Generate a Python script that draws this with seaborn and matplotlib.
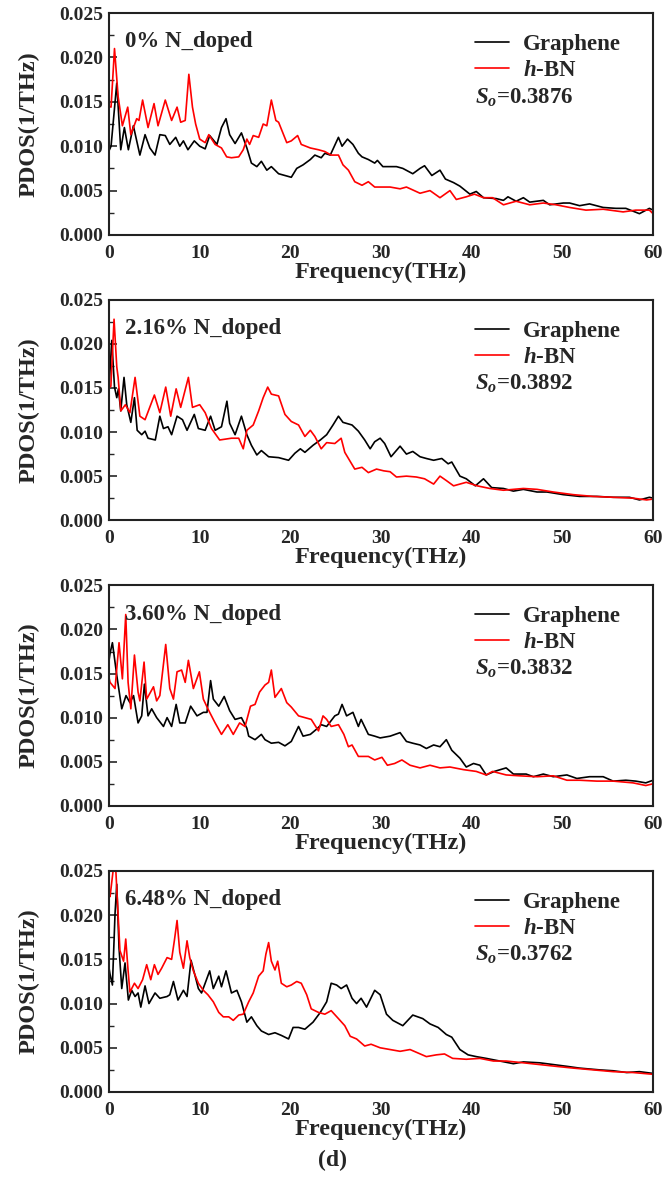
import matplotlib
matplotlib.use("Agg")
from matplotlib import pyplot as plt
from matplotlib.ticker import MultipleLocator, FormatStrFormatter
import pandas as pd
import seaborn as sns

# PDOS values are in units of 1e-3 1/THz, frequencies in THz

# ----- 0% N_doped -----
g0_freq = [0, 0.22, 0.85, 1.29, 1.69, 2.13, 2.68, 3.4, 3.97, 4.5,
           5.07, 5.6, 6.2, 6.7, 7.35, 7.8, 8.2, 8.7, 9.4, 10.0,
           10.6, 11.1, 11.9, 12.4, 12.9, 13.3, 13.9, 14.6, 15.2, 15.7,
           16.3, 16.8, 17.4, 17.9, 18.7, 19.4, 20.1, 20.7, 21.4, 22.2,
           22.7, 23.4, 23.8, 24.4, 25.3, 25.7, 26.3, 26.9, 27.5, 27.9,
           28.6, 29.3, 29.6, 30.2, 31.7, 32.4, 33.5, 34.3, 34.8, 35.6,
           36.5, 37.1, 38.0, 38.7, 39.8, 40.5, 41.3, 42.7, 43.5, 44.0,
           44.9, 45.7, 46.4, 47.9, 48.6, 50.1, 50.8, 51.9, 53.0, 54.5,
           55.9, 57.0, 58.5, 59.6, 60.0]
g0_pdos = [9.5, 10.0, 17.1, 9.6, 12.1, 9.6, 12.3, 9.0, 11.3, 9.8,
           9.0, 11.3, 11.2, 10.2, 11.0, 10.0, 10.6, 9.6, 10.6, 10.0,
           9.7, 11.2, 10.2, 12.1, 13.1, 11.3, 10.3, 11.5, 9.8, 8.1,
           7.7, 8.3, 7.3, 7.7, 6.9, 6.7, 6.5, 7.5, 7.9, 8.5,
           9.0, 8.7, 9.2, 9.0, 11.0, 10.0, 10.8, 10.2, 9.2, 8.8,
           8.5, 8.1, 8.4, 7.7, 7.7, 7.5, 6.9, 7.5, 7.8, 6.7,
           7.3, 6.3, 5.9, 5.5, 4.6, 4.9, 4.2, 4.1, 3.9, 4.3,
           3.8, 4.2, 3.7, 3.9, 3.4, 3.6, 3.6, 3.3, 3.5, 3.1,
           3.0, 3.0, 2.4, 3.0, 2.8]
h0_freq = [0, 0.22, 0.6, 1.0, 1.47, 2.06, 2.4, 3.05, 3.3, 3.7,
           4.3, 4.96, 5.4, 6.2, 6.9, 7.5, 7.9, 8.4, 8.8, 9.2,
           9.55, 10.0, 10.6, 11.0, 11.7, 12.4, 12.97, 13.5, 14.3, 14.8,
           15.2, 15.5, 15.9, 16.5, 17.0, 17.4, 17.9, 18.4, 18.7, 19.6,
           20.1, 20.8, 21.2, 22.2, 23.1, 23.8, 24.5, 25.3, 25.8, 26.4,
           27.1, 27.9, 28.6, 29.3, 29.9, 31.0, 32.1, 32.8, 34.3, 35.4,
           36.5, 37.6, 38.3, 39.4, 40.3, 41.3, 42.3, 43.5, 44.9, 46.4,
           47.9, 49.3, 50.8, 52.6, 54.5, 56.7, 58.1, 59.6, 60.0]
h0_pdos = [14.5, 14.4, 21.0, 15.6, 12.3, 14.4, 11.3, 13.1, 12.9, 15.2,
           12.1, 14.8, 12.3, 15.2, 12.9, 14.4, 12.7, 12.9, 18.1, 14.4,
           12.5, 10.8, 10.4, 11.3, 10.2, 9.8, 8.8, 8.7, 8.8, 9.6,
           10.8, 10.2, 11.2, 11.0, 12.5, 12.3, 15.2, 12.9, 12.7, 10.4,
           10.6, 11.2, 10.2, 9.8, 9.6, 9.4, 9.0, 9.0, 7.9, 7.3,
           6.0, 5.6, 6.0, 5.4, 5.4, 5.4, 5.2, 5.4, 4.7, 5.0,
           4.2, 5.0, 4.0, 4.3, 4.6, 4.2, 4.2, 3.4, 3.8, 3.4,
           3.6, 3.4, 3.1, 2.8, 2.9, 2.6, 2.8, 2.8, 2.4]

# ----- 2.16% N_doped -----
g1_freq = [0, 0.3, 0.6, 0.85, 1.03, 1.29, 1.65, 1.95, 2.4, 2.8,
           3.1, 3.6, 3.97, 4.3, 5.1, 5.6, 6.0, 6.5, 6.9, 7.5,
           8.1, 8.6, 9.4, 9.85, 10.6, 11.2, 11.7, 12.4, 13.0, 13.3,
           13.9, 14.6, 15.2, 15.7, 16.3, 16.8, 17.6, 18.7, 19.8, 20.5,
           21.1, 21.6, 22.5, 23.3, 24.0, 24.7, 25.3, 25.8, 26.8, 27.5,
           28.2, 28.8, 29.3, 29.9, 30.4, 31.1, 32.1, 32.8, 33.5, 34.3,
           35.0, 35.8, 36.7, 37.4, 37.8, 38.7, 39.4, 40.4, 41.3, 42.2,
           43.5, 44.6, 45.7, 47.2, 48.3, 50.1, 51.9, 53.8, 55.6, 57.4,
           58.5, 59.6, 60.0]
g1_pdos = [15.1, 20.4, 15.1, 13.9, 14.9, 12.4, 16.2, 13.1, 11.1, 13.9,
           10.2, 9.7, 10.1, 9.3, 9.1, 11.8, 10.4, 10.6, 9.7, 11.8,
           11.4, 10.2, 12.0, 10.4, 10.2, 11.8, 10.2, 10.6, 13.5, 11.0,
           9.7, 11.8, 9.7, 8.5, 7.4, 7.9, 7.2, 7.1, 6.8, 7.6,
           8.1, 7.7, 8.5, 9.1, 9.7, 10.8, 11.8, 11.1, 10.8, 10.1,
           9.1, 8.1, 8.9, 9.3, 8.7, 7.2, 8.4, 7.5, 7.8, 7.2,
           7.0, 6.8, 7.0, 6.4, 6.6, 5.0, 4.7, 3.9, 4.7, 3.7,
           3.6, 3.3, 3.5, 3.2, 3.2, 2.9, 2.7, 2.7, 2.6, 2.6,
           2.3, 2.6, 2.5]
h1_freq = [0, 0.2, 0.55, 0.85, 1.0, 1.3, 1.8, 2.3, 2.87, 3.4,
           3.97, 5.0, 5.6, 6.25, 6.8, 7.4, 7.9, 8.75, 9.2, 10.0,
           10.6, 11.3, 12.2, 13.5, 14.3, 14.8, 15.2, 15.9, 16.5, 17.0,
           17.5, 17.9, 18.7, 19.4, 20.1, 20.9, 21.6, 22.2, 22.7, 23.4,
           24.0, 24.9, 25.6, 26.0, 27.1, 27.9, 28.6, 29.5, 30.3, 31.0,
           31.7, 32.8, 33.9, 34.8, 35.8, 36.5, 37.2, 38.0, 39.4, 40.6,
           42.0, 43.5, 45.7, 47.2, 49.0, 51.2, 53.4, 55.6, 57.8, 59.3,
           60.0]
h1_pdos = [15.0, 15.2, 22.8, 17.4, 16.2, 12.4, 13.1, 12.2, 16.2, 11.8,
           11.4, 14.2, 12.2, 15.1, 11.8, 14.9, 12.8, 16.2, 12.8, 13.1,
           12.2, 10.4, 9.1, 9.3, 9.3, 8.1, 10.2, 10.8, 12.4, 13.9,
           15.1, 14.3, 14.1, 12.0, 11.2, 10.8, 9.5, 10.2, 9.5, 8.1,
           8.8, 8.7, 9.3, 7.7, 5.8, 6.0, 5.4, 5.8, 5.6, 5.5,
           4.9, 5.0, 4.9, 4.7, 4.1, 5.0, 4.5, 3.9, 4.3, 3.9,
           3.6, 3.4, 3.6, 3.5, 3.2, 2.9, 2.7, 2.6, 2.5, 2.3,
           2.4]

# ----- 3.60% N_doped -----
g2_freq = [0, 0.11, 0.37, 0.85, 1.4, 1.87, 2.3, 2.7, 3.2, 3.6,
           3.9, 4.3, 4.7, 5.25, 6.0, 6.4, 6.9, 7.4, 7.8, 8.4,
           9.0, 9.7, 10.4, 10.8, 11.2, 11.5, 12.1, 12.7, 13.3, 13.9,
           14.6, 15.2, 15.4, 16.1, 16.8, 17.2, 17.9, 18.7, 19.4, 20.1,
           20.9, 21.4, 22.2, 22.9, 23.4, 24.0, 24.9, 25.3, 25.7, 26.2,
           26.9, 27.5, 27.8, 28.6, 29.3, 29.9, 31.0, 32.1, 32.8, 33.5,
           34.3, 35.0, 35.8, 36.5, 37.2, 37.8, 38.7, 39.4, 40.2, 40.9,
           41.6, 42.5, 43.8, 44.6, 46.0, 46.8, 47.9, 49.0, 50.5, 51.6,
           53.0, 54.5, 55.6, 57.0, 58.1, 59.2, 60.0]
g2_pdos = [16.5, 17.3, 18.5, 14.8, 11.0, 12.5, 11.7, 12.5, 9.4, 10.2,
           13.8, 10.2, 11.0, 10.0, 9.0, 10.0, 9.0, 11.5, 9.4, 9.4,
           11.3, 10.2, 10.6, 10.6, 14.2, 12.1, 11.3, 12.4, 10.8, 9.8,
           10.0, 8.8, 7.9, 7.5, 8.1, 7.5, 7.1, 7.2, 6.8, 7.3,
           9.0, 7.9, 8.1, 8.7, 9.2, 9.0, 10.2, 10.4, 11.5, 10.2,
           10.6, 9.0, 9.8, 8.1, 7.9, 7.7, 7.9, 8.3, 7.3, 7.1,
           6.9, 6.5, 6.9, 6.7, 7.5, 6.3, 5.4, 4.4, 4.8, 4.6,
           3.5, 3.9, 4.3, 3.6, 3.6, 3.3, 3.6, 3.3, 3.5, 3.1,
           3.3, 3.3, 2.8, 2.9, 2.8, 2.6, 2.9]
h2_freq = [0, 0.11, 0.66, 1.1, 1.47, 1.84, 2.1, 2.4, 2.8, 3.2,
           3.4, 3.86, 4.15, 4.9, 5.25, 5.6, 6.25, 6.7, 7.1, 7.5,
           8.0, 8.4, 8.75, 9.3, 9.96, 10.4, 10.9, 11.7, 12.4, 13.1,
           13.7, 14.4, 15.0, 15.6, 16.1, 16.6, 17.2, 17.6, 17.9, 18.3,
           19.0, 19.6, 20.1, 20.9, 21.6, 22.3, 23.1, 23.6, 24.0, 24.5,
           25.3, 25.9, 26.4, 26.8, 27.5, 28.6, 29.3, 30.1, 30.7, 31.5,
           32.3, 33.2, 34.3, 35.4, 36.5, 37.6, 39.1, 40.5, 41.6, 42.3,
           43.8, 45.3, 47.2, 49.0, 50.5, 51.9, 53.8, 55.6, 57.8, 59.2,
           60.0]
h2_pdos = [14.5, 14.0, 13.3, 18.5, 14.4, 21.7, 14.0, 11.0, 17.1, 12.9,
           11.9, 16.3, 12.1, 13.5, 11.9, 12.5, 18.3, 13.3, 12.1, 15.2,
           15.4, 14.0, 16.5, 13.3, 15.2, 12.1, 11.0, 9.4, 8.1, 9.2,
           8.1, 9.4, 9.0, 11.3, 11.5, 12.9, 13.7, 14.0, 15.4, 12.3,
           13.3, 11.7, 11.2, 10.2, 10.0, 9.8, 8.5, 10.2, 9.8, 9.0,
           9.2, 8.1, 6.7, 6.9, 5.6, 5.6, 5.2, 5.5, 4.6, 4.8,
           5.2, 4.6, 4.3, 4.6, 4.3, 4.4, 4.1, 3.9, 3.5, 3.9,
           3.5, 3.4, 3.3, 3.4, 2.9, 2.9, 2.8, 2.8, 2.6, 2.3,
           2.5]

# ----- 6.48% N_doped -----
g3_freq = [0, 0.11, 0.37, 0.66, 0.85, 1.1, 1.4, 1.76, 2.13, 2.5,
           2.87, 3.2, 3.5, 3.97, 4.4, 5.07, 5.6, 6.4, 6.7, 7.1,
           7.6, 8.2, 8.6, 9.04, 9.5, 9.85, 10.2, 10.6, 11.1, 11.5,
           12.1, 12.4, 12.9, 13.5, 14.1, 14.6, 15.2, 15.7, 16.3, 16.8,
           17.6, 18.3, 19.0, 19.8, 20.3, 20.9, 21.6, 22.5, 23.3, 24.0,
           24.5, 25.1, 25.6, 26.2, 26.8, 27.3, 27.8, 28.4, 29.3, 29.9,
           30.6, 31.3, 32.4, 33.5, 34.6, 35.4, 36.3, 37.2, 37.8, 38.7,
           39.6, 40.5, 41.6, 43.1, 44.6, 45.7, 47.5, 49.0, 50.5, 51.9,
           54.1, 55.6, 57.1, 58.5, 60.0]
g3_pdos = [14.0, 13.3, 12.1, 20.2, 23.5, 16.3, 11.7, 14.6, 10.4, 11.5,
           10.8, 11.2, 9.6, 12.0, 10.0, 11.2, 10.6, 10.8, 11.0, 12.5,
           10.4, 11.5, 10.8, 14.9, 13.1, 11.7, 11.2, 12.3, 13.7, 11.7,
           13.1, 11.9, 13.7, 11.2, 11.5, 10.2, 7.9, 8.5, 7.5, 6.9,
           6.5, 6.7, 6.4, 6.0, 7.3, 7.3, 7.1, 7.9, 9.0, 10.2,
           12.3, 12.1, 11.7, 12.1, 10.6, 10.0, 10.6, 9.6, 11.5, 11.0,
           8.8, 8.1, 7.5, 8.7, 8.3, 7.7, 7.3, 6.5, 6.2, 4.8,
           4.2, 4.0, 3.8, 3.5, 3.2, 3.4, 3.3, 3.1, 2.9, 2.7,
           2.5, 2.4, 2.2, 2.3, 2.1]
h3_freq = [0, 0.11, 0.5, 0.7, 0.95, 1.2, 1.6, 1.84, 2.1, 2.3,
           2.8, 3.2, 3.7, 4.15, 4.6, 5.0, 5.4, 5.8, 6.4, 6.9,
           7.2, 7.5, 7.8, 8.2, 8.6, 8.9, 9.3, 9.85, 10.4, 10.9,
           11.5, 12.1, 12.6, 13.2, 13.7, 14.3, 14.8, 15.4, 15.9, 16.5,
           17.0, 17.3, 17.6, 17.9, 18.3, 18.6, 19.0, 19.6, 20.1, 20.7,
           21.2, 21.8, 22.3, 23.1, 23.8, 24.5, 25.3, 26.0, 26.6, 27.3,
           28.2, 28.9, 29.9, 31.0, 32.1, 33.2, 34.1, 35.0, 36.1, 37.0,
           37.9, 39.4, 40.9, 42.4, 43.8, 45.7, 47.5, 49.3, 51.2, 53.4,
           55.6, 57.8, 60.0]
h3_pdos = [22.5, 22.1, 25.5, 26.0, 21.0, 16.0, 14.8, 17.3, 13.7, 11.3,
           12.3, 11.7, 12.7, 14.4, 12.7, 14.4, 13.3, 14.0, 15.2, 15.0,
           17.1, 19.4, 15.8, 14.0, 17.1, 15.2, 13.7, 12.3, 11.5, 11.0,
           10.2, 9.0, 8.5, 8.5, 8.1, 8.7, 8.8, 10.2, 11.2, 13.1,
           13.7, 15.6, 16.9, 14.8, 13.8, 14.8, 12.3, 11.9, 12.1, 12.5,
           12.3, 11.0, 9.4, 9.0, 8.8, 9.2, 8.3, 7.5, 6.3, 6.0,
           5.2, 5.4, 5.0, 4.8, 4.6, 4.8, 4.4, 4.0, 4.2, 4.3,
           3.8, 3.7, 3.8, 3.5, 3.5, 3.3, 3.1, 2.9, 2.7, 2.5,
           2.3, 2.2, 2.0]

doping_labels = ["0% N_doped", "2.16% N_doped", "3.60% N_doped", "6.48% N_doped"]
so_values = ["0.3876", "0.3892", "0.3832", "0.3762"]
graphene_freqs = [g0_freq, g1_freq, g2_freq, g3_freq]
graphene_pdos = [g0_pdos, g1_pdos, g2_pdos, g3_pdos]
hbn_freqs = [h0_freq, h1_freq, h2_freq, h3_freq]
hbn_pdos = [h0_pdos, h1_pdos, h2_pdos, h3_pdos]

# -----------------------------

sns.set_style("ticks")
plt.rcParams['font.family'] = ['Liberation Serif', 'DejaVu Serif']
plt.rcParams['font.weight'] = 'bold'
plt.rcParams['axes.labelweight'] = 'bold'
plt.rcParams['mathtext.fontset'] = 'custom'
plt.rcParams['mathtext.it'] = 'Liberation Serif:italic:bold'
plt.rcParams['mathtext.rm'] = 'Liberation Serif:bold'
plt.rcParams['mathtext.bf'] = 'Liberation Serif:bold'

fig = plt.figure(figsize=(6.65, 11.85), dpi=100)
boxes = [(0.8017, 0.989), (0.561, 0.747), (0.320, 0.506), (0.0785, 0.265)]

for i, (bottom, top) in enumerate(boxes):
    ax = fig.add_axes([0.164, bottom, 0.818, top - bottom])
    g = pd.DataFrame({'Frequency': graphene_freqs[i],
                      'PDOS': [v / 1000 for v in graphene_pdos[i]]})
    h = pd.DataFrame({'Frequency': hbn_freqs[i],
                      'PDOS': [v / 1000 for v in hbn_pdos[i]]})
    sns.lineplot(data=g, x='Frequency', y='PDOS', ax=ax, color='black',
                 lw=1.2, label='Graphene', estimator=None)
    sns.lineplot(data=h, x='Frequency', y='PDOS', ax=ax, color='red',
                 lw=1.2, label=r'$h$-BN', estimator=None)

    ax.set_xlim(0, 60)
    ax.set_ylim(0, 0.025)
    ax.xaxis.set_major_locator(MultipleLocator(10))
    ax.yaxis.set_major_locator(MultipleLocator(0.005))
    ax.yaxis.set_minor_locator(MultipleLocator(0.0025))
    ax.yaxis.set_major_formatter(FormatStrFormatter('%.3f'))
    ax.tick_params(axis='y', which='major', direction='in', length=6,
                   width=1.2, labelsize=14, pad=4)
    ax.tick_params(axis='y', which='minor', direction='in', length=3.5, width=1.0)
    ax.tick_params(axis='x', which='major', direction='in', length=0,
                   labelsize=14, pad=7)
    for sp in ax.spines.values():
        sp.set_linewidth(1.5)
        sp.set_color('#222222')

    ax.set_xlabel('Frequency(THz)', fontsize=17.5, labelpad=0)
    ax.set_ylabel('PDOS(1/THz)', fontsize=17.5, labelpad=14)

    ax.legend(loc='upper left', bbox_to_anchor=(0.672, 0.905), frameon=False,
              fontsize=16.5, handlelength=1.5, handletextpad=0.6,
              labelspacing=0.22, borderaxespad=0, borderpad=0)
    ax.text(0.03, 0.87, doping_labels[i], transform=ax.transAxes,
            fontsize=16.5, va='center', ha='left')
    ax.text(0.673, 0.62, r'$S_o$=' + so_values[i], transform=ax.transAxes,
            fontsize=16.5, va='center', ha='left')

fig.text(0.5, 0.021, '(d)', ha='center', va='center', fontsize=17)

path = "out.png"
fig.savefig(path, dpi=100)
print(f"Saved figure to {path}.")
plt.close()
